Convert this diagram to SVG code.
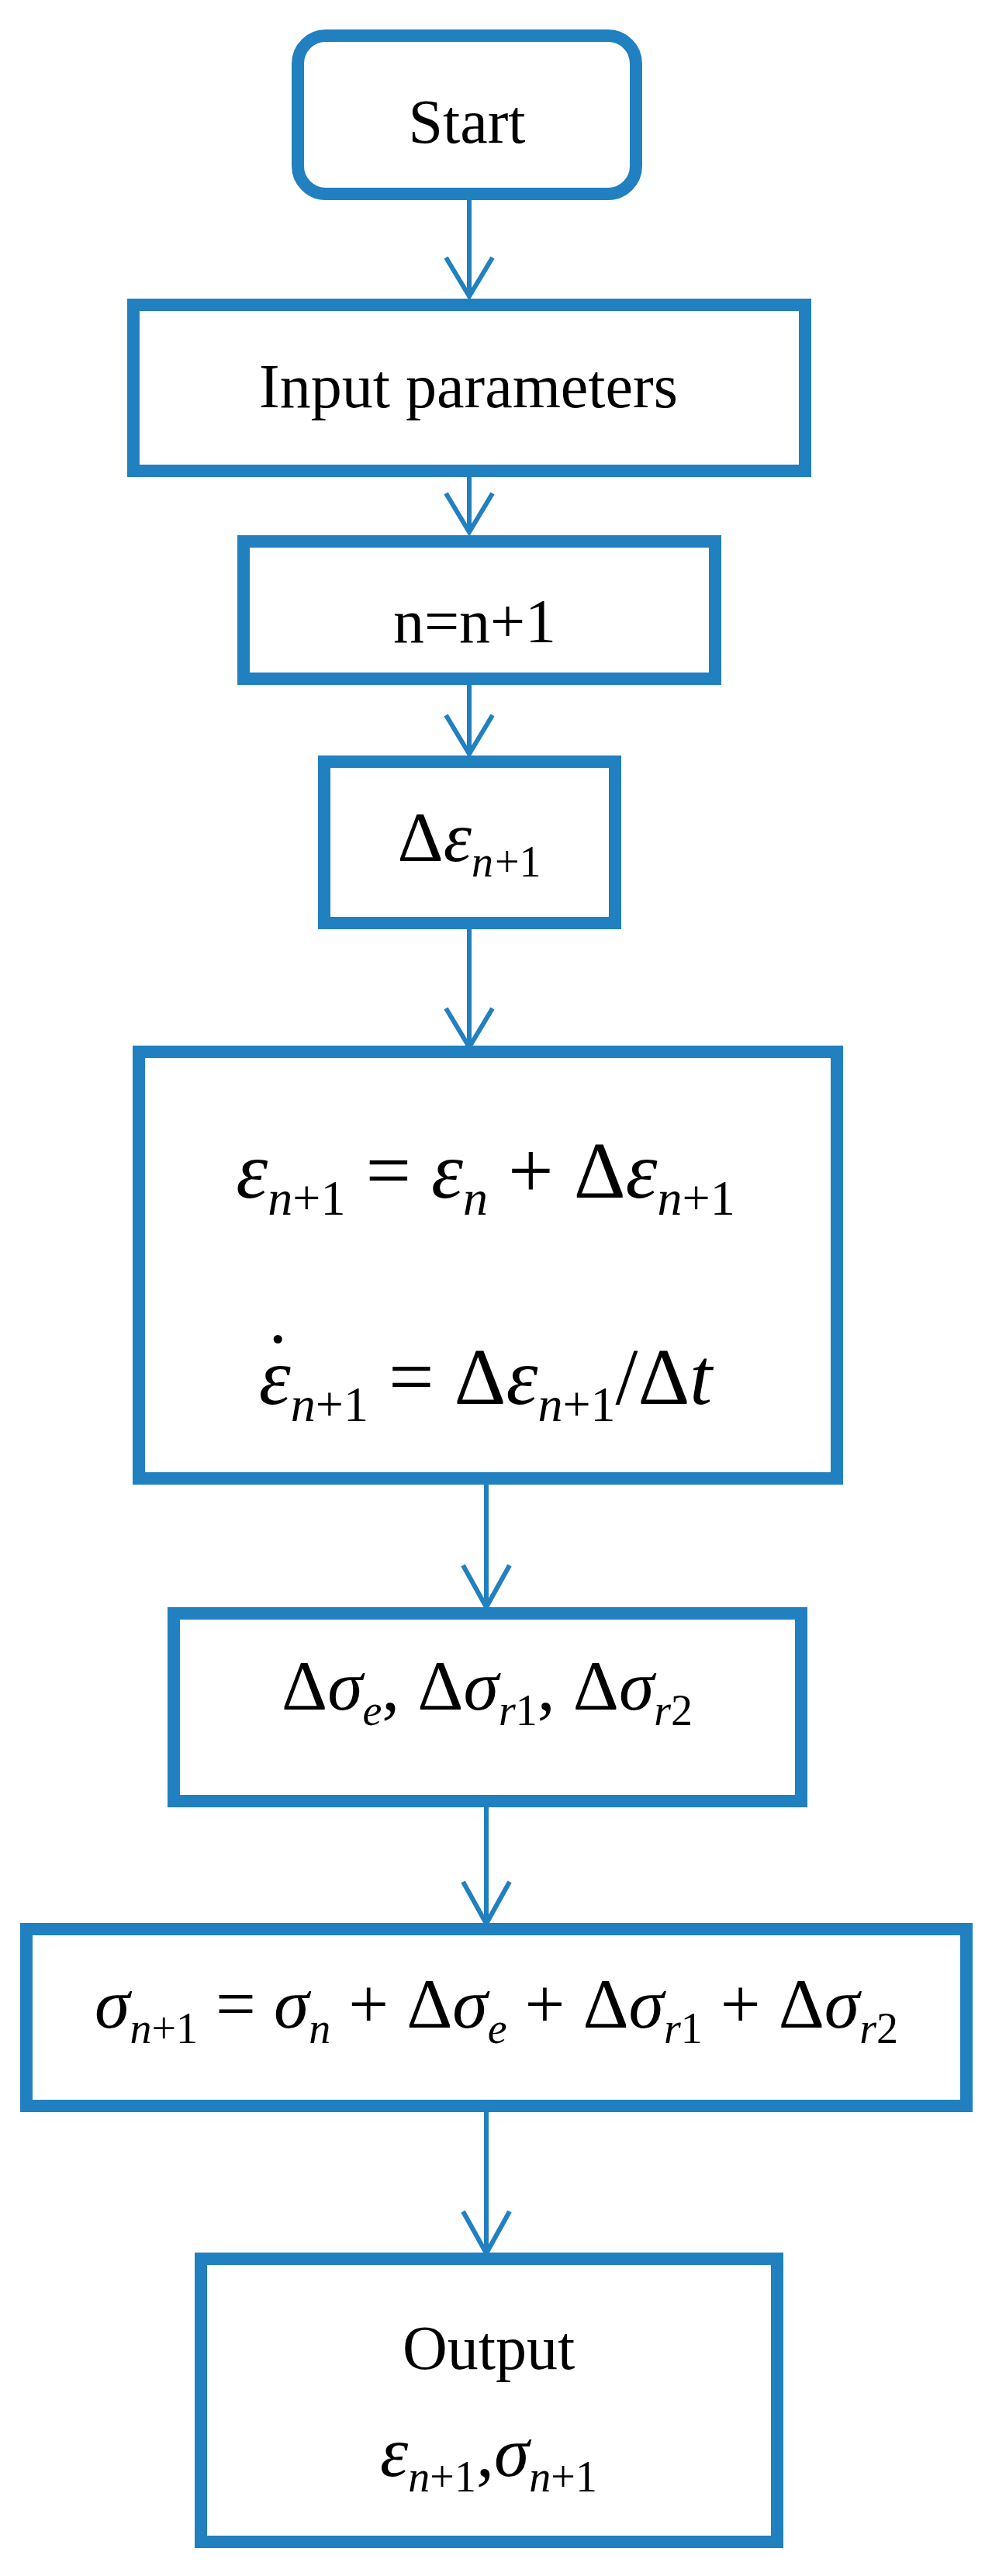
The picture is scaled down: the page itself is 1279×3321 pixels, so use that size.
<svg xmlns="http://www.w3.org/2000/svg" width="1279" height="3321" viewBox="0 0 1279 3321">
<style>
.b{fill:#fff;stroke:#2180c0;stroke-width:16}
.c{fill:none;stroke:#2180c0;stroke-width:6}
text{font-family:"Liberation Serif",serif;fill:#000;text-anchor:middle}
.t{font-size:80px}
.m{font-size:92px}
.L{font-size:104px}
.i{font-style:italic}
.s{font-size:56px;font-style:italic}
.S{font-size:64px;font-style:italic}
</style>
<rect width="1279" height="3321" fill="#fff"/>
<g id="connectors">
<path class="c" d="M605 252V382M575 332L605 382L635 332"/>
<path class="c" d="M605 607V686M575 636L605 686L635 636"/>
<path class="c" d="M605 875V972M575 922L605 972L635 922"/>
<path class="c" d="M605 1190V1350M575 1300L605 1350L635 1300"/>
<path class="c" d="M627 1906V2072M597 2018L627 2072L657 2018"/>
<path class="c" d="M627 2330V2480M597 2426L627 2480L657 2426"/>
<path class="c" d="M627 2715V2905M597 2851L627 2905L657 2851"/>
</g>
<g id="start"><rect class="b" x="384" y="46" width="436" height="204" rx="36"/><text class="t" x="602" y="184">Start</text></g>
<g id="input"><rect class="b" x="172" y="393" width="866" height="214"/><text class="t" x="604" y="525">Input parameters</text></g>
<g id="incr"><rect class="b" x="314" y="698" width="608" height="177"/><text class="t" x="612" y="828">n=n+1</text></g>
<g id="deps"><rect class="b" x="418" y="982" width="375" height="208"/><text x="605" y="1110"><tspan class="m">Δ</tspan><tspan class="m i">ε</tspan><tspan class="s" dy="20">n</tspan><tspan font-size="56" dx="2">+1</tspan></text></g>
<g id="strain"><rect class="b" x="179" y="1356" width="900" height="550"/>
<text x="626" y="1544"><tspan class="L i">ε</tspan><tspan class="S" dy="22">n</tspan><tspan font-size="64">+1</tspan><tspan class="L" dy="-22"> = </tspan><tspan class="L i">ε</tspan><tspan class="S" dy="22">n</tspan><tspan class="L" dy="-22"> + Δ</tspan><tspan class="L i">ε</tspan><tspan class="S" dy="22">n</tspan><tspan font-size="64">+1</tspan></text>
<text x="626" y="1810"><tspan class="L i">ε</tspan><tspan class="S" dy="22">n</tspan><tspan font-size="64">+1</tspan><tspan class="L" dy="-22"> = Δ</tspan><tspan class="L i">ε</tspan><tspan class="S" dy="22">n</tspan><tspan font-size="64">+1</tspan><tspan class="L" dy="-22">/Δ</tspan><tspan class="L i">t</tspan></text>
<text class="L" x="358" y="1790">˙</text>
</g>
<g id="dsig"><rect class="b" x="224" y="2080" width="809" height="242"/>
<text x="628" y="2204"><tspan class="m">Δ</tspan><tspan class="m i">σ</tspan><tspan class="s" dy="20">e</tspan><tspan class="m" dy="-20">, Δ</tspan><tspan class="m i">σ</tspan><tspan class="s" dy="20">r</tspan><tspan font-size="56">1</tspan><tspan class="m" dy="-20">, Δ</tspan><tspan class="m i">σ</tspan><tspan class="s" dy="20">r</tspan><tspan font-size="56">2</tspan></text></g>
<g id="sig"><rect class="b" x="34" y="2487" width="1212" height="228"/>
<text x="640" y="2614"><tspan class="m i">σ</tspan><tspan class="s" dy="20">n</tspan><tspan font-size="56">+1</tspan><tspan class="m" dy="-20"> = </tspan><tspan class="m i">σ</tspan><tspan class="s" dy="20">n</tspan><tspan class="m" dy="-20"> + Δ</tspan><tspan class="m i">σ</tspan><tspan class="s" dy="20">e</tspan><tspan class="m" dy="-20"> + Δ</tspan><tspan class="m i">σ</tspan><tspan class="s" dy="20">r</tspan><tspan font-size="56">1</tspan><tspan class="m" dy="-20"> + Δ</tspan><tspan class="m i">σ</tspan><tspan class="s" dy="20">r</tspan><tspan font-size="56">2</tspan></text></g>
<g id="output"><rect class="b" x="259" y="2912" width="743" height="365"/>
<text class="t" x="630" y="3054">Output</text>
<text x="630" y="3192"><tspan class="m i">ε</tspan><tspan class="s" dy="20">n</tspan><tspan font-size="56">+1</tspan><tspan class="m" dy="-20">,</tspan><tspan class="m i">σ</tspan><tspan class="s" dy="20">n</tspan><tspan font-size="56">+1</tspan></text></g>
</svg>
